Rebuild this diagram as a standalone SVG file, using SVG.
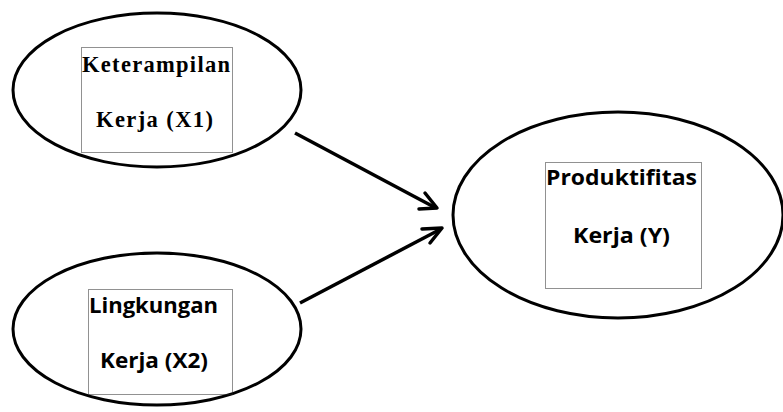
<svg xmlns="http://www.w3.org/2000/svg" width="783" height="412" viewBox="0 0 783 412">
<style>
.node ellipse{fill:#fff;stroke:#000;stroke-width:3}
.box{fill:none;stroke:#222;stroke-width:1;stroke-dasharray:1 1}
.serif{font-family:"Liberation Serif","Times New Roman",serif;font-weight:bold;font-size:22.5px;fill:#000}
.sans{font-family:"Open Sans","Liberation Sans",Arial,sans-serif;font-weight:bold;font-size:21.5px;fill:#000}
.conn line{stroke:#000;stroke-width:3.5}
.conn path{fill:none;stroke:#000;stroke-width:3.5;stroke-linecap:round;stroke-linejoin:round}
</style>
<rect width="783" height="412" fill="#fff"/>
<g id="node-x1" class="node">
<ellipse cx="157" cy="90" rx="144" ry="77"/>
<rect class="box" x="81.5" y="47.5" width="151" height="105"/>
<text class="serif" x="82" y="72" textLength="148" lengthAdjust="spacing">Keterampilan</text>
<text class="serif" x="96" y="127" textLength="117" lengthAdjust="spacing">Kerja (X1)</text>
</g>
<g id="node-x2" class="node">
<ellipse cx="157" cy="329" rx="144" ry="76"/>
<rect class="box" x="88.5" y="289.5" width="144" height="105"/>
<text class="sans" x="89" y="313" textLength="129" lengthAdjust="spacingAndGlyphs">Lingkungan</text>
<text class="sans" x="100" y="368" textLength="108" lengthAdjust="spacingAndGlyphs">Kerja (X2)</text>
</g>
<g id="node-y" class="node">
<ellipse cx="618" cy="215" rx="165" ry="103"/>
<rect class="box" x="545.5" y="162.5" width="156" height="126"/>
<text class="sans" x="546" y="185" textLength="151" lengthAdjust="spacingAndGlyphs">Produktifitas</text>
<text class="sans" x="573" y="243" textLength="97" lengthAdjust="spacingAndGlyphs">Kerja (Y)</text>
</g>
<g id="connectors" class="conn">
<line x1="295" y1="133" x2="434" y2="207"/>
<path d="M425,193 L437,208 L419,209"/>
<line x1="300" y1="303" x2="439" y2="230"/>
<path d="M422,229 L442,228 L430,243"/>
</g>
</svg>
